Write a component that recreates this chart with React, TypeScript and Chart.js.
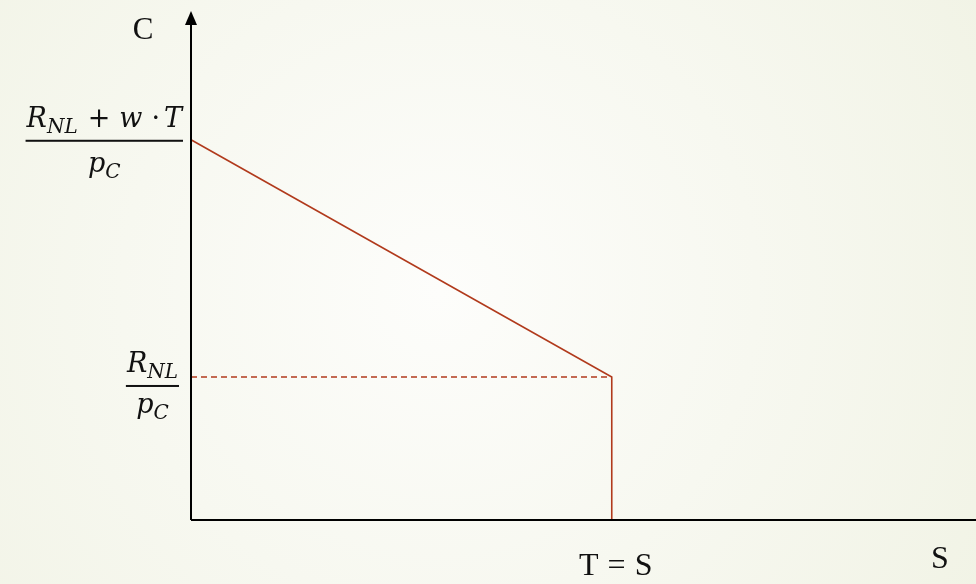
import React, { useEffect, useRef } from "react";
import { Chart, registerables } from "chart.js";

Chart.register(...registerables);

// Values (S on x, C on y; arbitrary units, axis range 0..100)
const sRange = [0, 100];
const cRange = [0, 100];
const tValue = 53.6; // T = S kink position
const interceptHigh = 74.7; // (R_NL + w·T) / p_C
const interceptLow = 28.1; // R_NL / p_C
const budgetX = [0, tValue, tValue];
const budgetY = [interceptHigh, interceptLow, 0];
const dashedX = [0, tValue];
const dashedY = [interceptLow, interceptLow];
const axisLabelY = "C";
const axisLabelX = "S";
const kinkLabelParts = ["T", "=", "S"];

type Part = { t: string; italic?: boolean; sub?: boolean; gap?: number };
const fracHighNum: Part[] = [
  { t: "R", italic: true },
  { t: "NL", italic: true, sub: true },
  { t: "+", gap: 10 },
  { t: "w", italic: true, gap: 9 },
  { t: "·", gap: 9 },
  { t: "T", italic: true, gap: 4 },
];
const fracHighDen: Part[] = [
  { t: "p", italic: true },
  { t: "C", italic: true, sub: true },
];
const fracLowNum: Part[] = [
  { t: "R", italic: true },
  { t: "NL", italic: true, sub: true },
];
const fracLowDen: Part[] = [
  { t: "p", italic: true },
  { t: "C", italic: true, sub: true },
];

const RED = "#B13A1C";
const MATH_FONT = '"DejaVu Serif", "Liberation Serif", serif';
const TEXT_FONT = '"Liberation Serif", serif';

function partFont(p: Part, size: number) {
  const s = p.sub ? Math.round(size * 0.75) : size;
  return `${p.italic ? "italic " : ""}${s}px ${MATH_FONT}`;
}

function measureParts(ctx: CanvasRenderingContext2D, parts: Part[], size: number) {
  let w = 0;
  for (const p of parts) {
    ctx.font = partFont(p, size);
    w += (p.gap || 0) + ctx.measureText(p.t).width;
  }
  return w;
}

function drawParts(
  ctx: CanvasRenderingContext2D,
  parts: Part[],
  size: number,
  x: number,
  baseline: number
) {
  let cx = x;
  ctx.textAlign = "left";
  ctx.textBaseline = "alphabetic";
  for (const p of parts) {
    ctx.font = partFont(p, size);
    cx += p.gap || 0;
    ctx.fillText(p.t, cx, baseline + (p.sub ? size * 0.22 : 0));
    cx += ctx.measureText(p.t).width;
  }
}

function drawFraction(
  ctx: CanvasRenderingContext2D,
  num: Part[],
  den: Part[],
  size: number,
  right: number,
  barY: number,
  numGap: number,
  denGap: number
) {
  const nw = measureParts(ctx, num, size);
  const dw = measureParts(ctx, den, size);
  const bw = Math.max(nw, dw) + 2;
  const left = right - bw;
  const cx = (left + right) / 2;
  ctx.fillStyle = "#111";
  ctx.fillRect(left, barY - 1, bw, 2);
  drawParts(ctx, num, size, cx - nw / 2, barY - numGap);
  drawParts(ctx, den, size, cx - dw / 2, barY + denGap);
}

const backgroundPlugin = {
  id: "bg",
  beforeDraw(chart: any) {
    const { ctx, width, height } = chart;
    ctx.save();
    const g = ctx.createRadialGradient(width * 0.45, height * 0.5, 0, width * 0.45, height * 0.5, width * 0.65);
    g.addColorStop(0, "#FDFDFB");
    g.addColorStop(1, "#F1F3E5");
    ctx.fillStyle = g;
    ctx.fillRect(0, 0, width, height);
    ctx.restore();
  },
};

const axesPlugin = {
  id: "axesAndLabels",
  afterDatasetsDraw(chart: any) {
    const { ctx } = chart;
    const xs = chart.scales.x;
    const ys = chart.scales.y;
    const x0 = xs.getPixelForValue(sRange[0]);
    const x1 = xs.getPixelForValue(sRange[1]);
    const y0 = ys.getPixelForValue(cRange[0]);
    const yTop = ys.getPixelForValue(cRange[1]);
    ctx.save();
    ctx.strokeStyle = "#000";
    ctx.lineWidth = 2;
    ctx.beginPath();
    ctx.moveTo(x0, y0);
    ctx.lineTo(x1, y0);
    ctx.moveTo(x0, y0);
    ctx.lineTo(x0, yTop + 12);
    ctx.stroke();
    ctx.fillStyle = "#000";
    ctx.beginPath();
    ctx.moveTo(x0, yTop);
    ctx.lineTo(x0 - 6, yTop + 14);
    ctx.lineTo(x0 + 6, yTop + 14);
    ctx.closePath();
    ctx.fill();

    // axis labels
    ctx.fillStyle = "#111";
    ctx.textAlign = "center";
    ctx.textBaseline = "alphabetic";
    ctx.font = `31px ${TEXT_FONT}`;
    ctx.fillText(axisLabelY, x0 - 48, yTop + 28);
    ctx.font = `32px ${TEXT_FONT}`;
    ctx.fillText(axisLabelX, x1 - 36, y0 + 48);

    // "T = S" with wide spacing, centred under the kink
    const gap = 9;
    const widths = kinkLabelParts.map((t) => ctx.measureText(t).width);
    const total = widths.reduce((a, b) => a + b, 0) + gap * (kinkLabelParts.length - 1);
    let kx = xs.getPixelForValue(tValue) + 4 - total / 2;
    ctx.textAlign = "left";
    kinkLabelParts.forEach((t, i) => {
      ctx.fillText(t, kx, y0 + 55);
      kx += widths[i] + gap;
    });

    // fraction labels on the C axis
    const pyHigh = ys.getPixelForValue(interceptHigh);
    const pyLow = ys.getPixelForValue(interceptLow);
    drawFraction(ctx, fracHighNum, fracHighDen, 27, x0 - 8, pyHigh + 1, 14, 31);
    drawFraction(ctx, fracLowNum, fracLowDen, 27, x0 - 12, pyLow + 9, 14, 27);
    ctx.restore();
  },
};

export default function App() {
  const ref = useRef<HTMLCanvasElement | null>(null);
  useEffect(() => {
    if (!ref.current) return;
    const chart = new Chart(ref.current, {
      type: "scatter",
      data: {
        datasets: [
          {
            label: "floor",
            data: dashedX.map((x, i) => ({ x, y: dashedY[i] })),
            showLine: true,
            borderColor: RED,
            borderWidth: 1.5,
            borderDash: [6, 4],
            pointRadius: 0,
            clip: false,
          } as any,
          {
            label: "budget",
            data: budgetX.map((x, i) => ({ x, y: budgetY[i] })),
            showLine: true,
            borderColor: RED,
            borderWidth: 1.6,
            pointRadius: 0,
            tension: 0,
            clip: false,
          } as any,
        ],
      },
      options: {
        responsive: false,
        animation: false,
        layout: { padding: { left: 191, right: 0, top: 11, bottom: 64 } },
        plugins: { legend: { display: false }, tooltip: { enabled: false } },
        scales: {
          x: { type: "linear", min: sRange[0], max: sRange[1], display: false },
          y: { type: "linear", min: cRange[0], max: cRange[1], display: false },
        },
      },
      plugins: [backgroundPlugin, axesPlugin],
    });
    return () => chart.destroy();
  }, []);
  return (
    <div style={{ position: "fixed", left: 0, top: 0, width: 976, height: 584 }}>
      <canvas ref={ref} width={976} height={584} style={{ width: 976, height: 584, display: "block" }} />
    </div>
  );
}
